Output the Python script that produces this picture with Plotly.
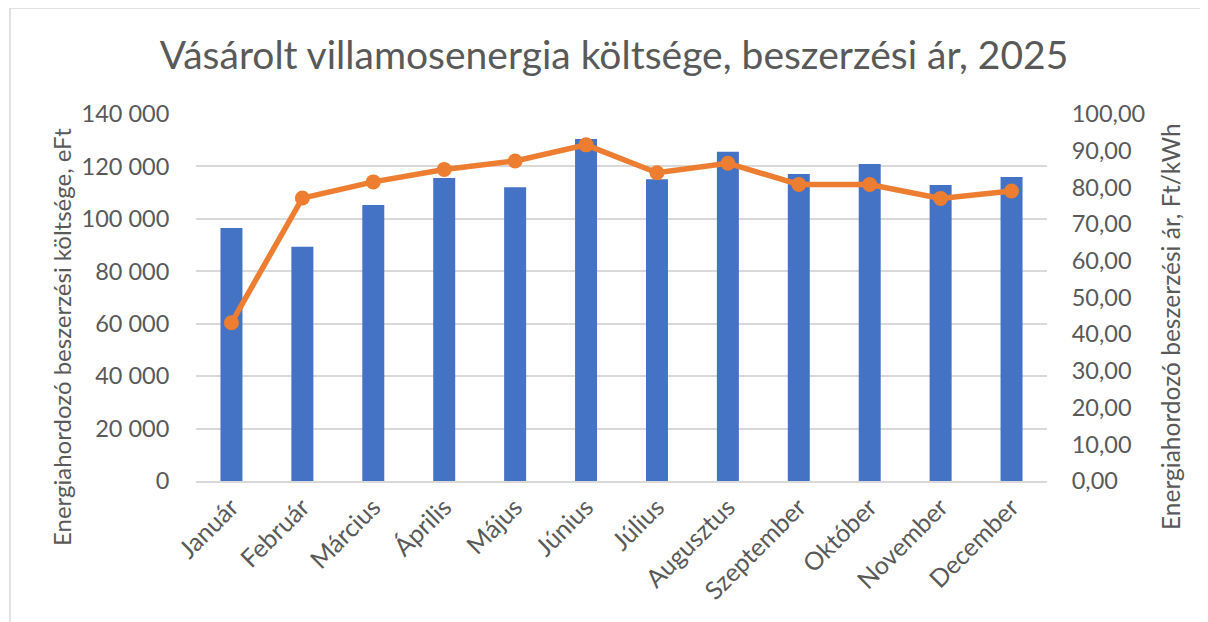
import plotly.graph_objects as go

months = ["Január", "Február", "Március", "Április", "Május", "Június",
          "Július", "Augusztus", "Szeptember", "Október", "November", "December"]
cost_eFt = [96500, 89400, 105300, 115600, 112100, 130500,
            115100, 125600, 117100, 120900, 112900, 116000]
price_ft_kwh = [43.1, 77.1, 81.5, 84.9, 87.2, 91.6,
                84.0, 86.6, 80.8, 80.8, 77.0, 79.0]

left_tickvals = [0, 20000, 40000, 60000, 80000, 100000, 120000, 140000]
left_ticktext = ["0", "20 000", "40 000", "60 000", "80 000", "100 000", "120 000", "140 000"]
right_tickvals = [0, 10, 20, 30, 40, 50, 60, 70, 80, 90, 100]
right_ticktext = ["0,00", "10,00", "20,00", "30,00", "40,00", "50,00",
                  "60,00", "70,00", "80,00", "90,00", "100,00"]

title_text = "Vásárolt villamosenergia költsége, beszerzési ár, 2025"
left_title = "Energiahordozó beszerzési költsége, eFt"
right_title = "Energiahordozó beszerzési ár, Ft/kWh"

FONT = "Lato"
GREY = "#595959"

OFF = 8  # page offset
W, H = 1208 - OFF, 622 - OFF
L, R, T, B = 196 - OFF, 1047 - OFF, 114 - OFF, 481 - OFF

def px_x(x):
    return (x - OFF - L) / (R - L)

def px_y(y):
    return (B - (y - OFF)) / (B - T)

fig = go.Figure()
fig.add_trace(go.Bar(x=months, y=cost_eFt, marker=dict(color="#4472C4", line=dict(width=0)),
                     width=0.31, name="Költség", yaxis="y"))
fig.add_trace(go.Scatter(x=months, y=price_ft_kwh, mode="lines+markers",
                         line=dict(color="#ED7D31", width=5.5),
                         marker=dict(color="#ED7D31", size=15),
                         name="Ár", yaxis="y2"))

fig.update_layout(
    width=W, height=H,
    margin=dict(l=L, r=W - R, t=T, b=H - B, autoexpand=False),
    paper_bgcolor="white", plot_bgcolor="white",
    showlegend=False,
    font=dict(family=FONT, color=GREY),
    title=dict(text=title_text, font=dict(size=39, color=GREY, family=FONT),
               x=px_x(614), xref="paper", xanchor="center",
               y=1 - (55 - OFF) / H, yref="container", yanchor="middle"),
    xaxis=dict(tickangle=-45, tickfont=dict(size=25, color=GREY),
               showgrid=False, showline=True, linecolor="#D9D9D9", linewidth=1.5,
               ticks="", range=[-0.5, 11.5]),
    yaxis=dict(range=[0, 140000], tickvals=left_tickvals, ticktext=left_ticktext,
               tickfont=dict(size=23.5, color=GREY), showgrid=True,
               gridcolor="#D9D9D9", gridwidth=1.5, zeroline=False, showline=False,
               ticks="outside", ticklen=21, tickcolor="rgba(0,0,0,0)"),
    yaxis2=dict(range=[0, 100], tickvals=right_tickvals, ticktext=right_ticktext,
                overlaying="y", side="right", showgrid=False, zeroline=False,
                tickfont=dict(size=23.5, color=GREY),
                ticks="outside", ticklen=19, tickcolor="rgba(0,0,0,0)"),
)

fig.add_annotation(text=left_title, x=px_x(61), y=px_y(337), xref="paper", yref="paper",
                   textangle=-90, showarrow=False, font=dict(size=24, color=GREY, family=FONT),
                   xanchor="center", yanchor="middle")
fig.add_annotation(text=right_title, x=px_x(1170), y=px_y(327), xref="paper", yref="paper",
                   textangle=-90, showarrow=False, font=dict(size=24.5, color=GREY, family=FONT),
                   xanchor="center", yanchor="middle")

# outer chart frame (partially visible)
fig.add_shape(type="line", xref="paper", yref="paper",
              x0=px_x(10), x1=px_x(10), y0=px_y(8), y1=px_y(622),
              line=dict(color="#D9D9D9", width=1.5))
fig.add_shape(type="line", xref="paper", yref="paper",
              x0=px_x(10), x1=px_x(1208), y0=px_y(8), y1=px_y(8),
              line=dict(color="#D9D9D9", width=1.5))

fig.write_html("out.html")
